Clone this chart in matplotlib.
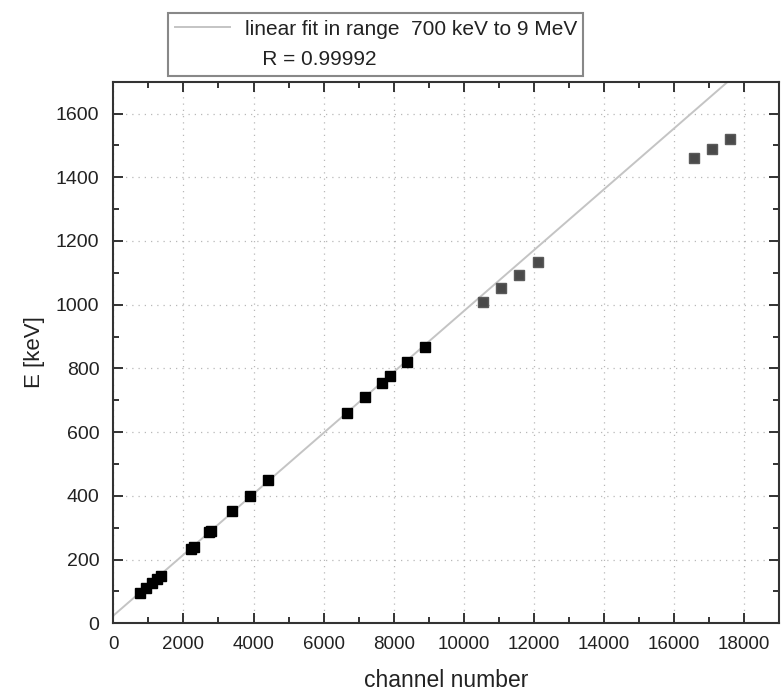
import matplotlib
matplotlib.use("Agg")
import matplotlib.pyplot as plt
from matplotlib.lines import Line2D
import numpy as np

plt.rcParams['font.family'] = ['Liberation Sans', 'DejaVu Sans']

# calibration points used in the fit (black)
ch_fit = [770, 930, 1100, 1245, 1360, 2230, 2290, 2730, 2790, 3400, 3895, 4427,
          6678, 7179, 7675, 7883, 8387, 8900]
e_fit = [94, 110, 126, 138, 150, 234, 240, 286, 291, 351, 401, 449,
         660, 710, 755, 776, 821, 867]
# points outside the fit range (grey)
ch_out = [10541, 11048, 11567, 12108, 16573, 17085, 17598]
e_out = [1010, 1052, 1094, 1135, 1459, 1490, 1520]

fit_intercept = 24.0
fit_slope = 0.0956

xticks = list(range(0, 18001, 2000))
yticks = list(range(0, 1601, 200))
legend_label = "linear fit in range  700 keV to 9 MeV"
legend_r = "   R = 0.99992"

fig = plt.figure(figsize=(7.83, 6.91), dpi=100)
ax = fig.add_axes([113.3 / 783, 1 - 623.3 / 691, (779.3 - 113.3) / 783, (623.3 - 81.7) / 691])

xs = np.array([0, 19000])
fit_line, = ax.plot(xs, fit_intercept + fit_slope * xs, color='#c4c4c4', lw=1.4, zorder=2)
ax.plot(ch_fit, e_fit, 's', color='#000000', ms=7.5, mec='#000000', zorder=3)
ax.plot(ch_out, e_out, 's', color='#4a4a4a', ms=7.5, mec='#5a5a5a', zorder=3)

ax.set_xlim(0, 19000)
ax.set_ylim(0, 1700)
ax.set_xticks(xticks)
ax.set_yticks(yticks)
ax.set_xticks(range(1000, 19000, 2000), minor=True)
ax.set_yticks(range(100, 1700, 200), minor=True)
ax.grid(True, which='major', linestyle=(0, (1, 4)), color='#b8b8b8', lw=0.9)
ax.tick_params(which='both', direction='in', top=True, right=True, colors='#333333',
               labelcolor='#222222', width=1.4)
ax.tick_params(axis='x', which='major', labelsize=13.5, pad=9)
ax.tick_params(axis='y', which='major', labelsize=14, pad=10)
ax.tick_params(which='major', length=7)
ax.tick_params(which='minor', length=4)
for s in ax.spines.values():
    s.set_color('#333333')
    s.set_linewidth(1.5)

ax.set_xlabel('channel number', fontsize=16.5, color='#222222', labelpad=12)
ax.set_ylabel('E [keV]', fontsize=16, color='#222222', labelpad=8)

blank = Line2D([], [], color='none')
leg = fig.legend([fit_line, blank], [legend_label, legend_r],
                 loc='upper left', bbox_to_anchor=(168 / 783, 1 - 12.7 / 691, 415 / 783, 0.0),
                 mode='expand', borderaxespad=0, fontsize=15, handlelength=2.65,
                 handletextpad=0.7, labelspacing=0.55, borderpad=0.33,
                 frameon=True, fancybox=False, edgecolor='#888888', framealpha=1)
leg.get_frame().set_linewidth(1.5)
for t in leg.get_texts():
    t.set_color('#222222')

fig.savefig('out.png', dpi=100)
